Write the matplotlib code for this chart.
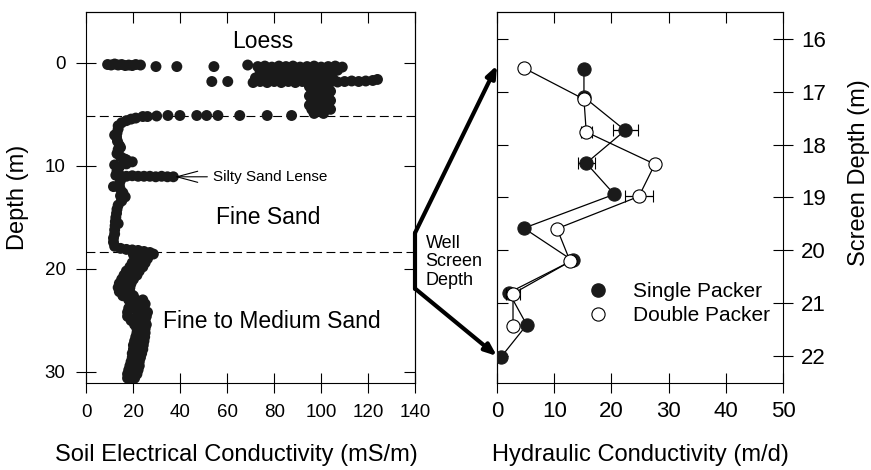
import numpy as np
import matplotlib.pyplot as plt
from matplotlib.patches import ConnectionPatch
from matplotlib.lines import Line2D

plt.rcParams['font.family'] = ['Liberation Sans', 'DejaVu Sans']

# ---- soil EC log (mS/m) vs depth (m) ----
ec_loess_top = [9, 10.5, 12, 13.5, 15, 16.5, 18, 19.5, 21, 23, 29.6, 38.5, 54.3, 68.7]
depth_loess_top = [0.15, 0.2, 0.1, 0.2, 0.15, 0.25, 0.2, 0.25, 0.15, 0.2, 0.35, 0.35, 0.35, 0.2]

ec_loess_a = [73, 76, 79, 82, 85, 88, 91, 94, 97, 100, 103, 106, 109,
              74, 77, 80, 83, 86, 89, 92, 95, 98, 101, 104, 107, 96, 100]
depth_loess_a = [0.35, 0.3, 0.4, 0.3, 0.35, 0.3, 0.4, 0.35, 0.3, 0.4, 0.35, 0.3, 0.4,
                 0.8, 0.75, 0.85, 0.7, 0.8, 0.75, 0.85, 0.8, 0.7, 0.8, 0.75, 0.7, 1.2, 1.15]

ec_loess_b = [53.4, 60.2, 71, 74, 77, 80, 83, 86, 89, 92, 95, 98, 101, 104, 107, 110, 113, 116, 119, 122, 124,
              72, 75, 78, 81, 84, 87, 90, 93, 96, 99, 102, 105]
depth_loess_b = [1.8, 1.8, 1.9, 1.8, 1.9, 1.8, 1.9, 1.8, 1.9, 1.8, 1.9, 1.8, 1.9, 1.8, 1.85, 1.8, 1.75, 1.8, 1.75, 1.7, 1.6,
                 1.45, 1.5, 1.4, 1.5, 1.45, 1.5, 1.4, 1.5, 1.45, 1.5, 1.4, 1.5]

ec_loess_c = [95, 99, 103, 96, 100, 104, 95, 99, 103, 96, 100, 104, 95, 99, 103, 96, 100, 104, 97, 101]
depth_loess_c = [2.3, 2.3, 2.3, 2.75, 2.75, 2.75, 3.2, 3.2, 3.2, 3.65, 3.65, 3.65, 4.1, 4.1, 4.1,
                 4.5, 4.5, 4.5, 4.9, 4.9]

ec_contact = [87.4, 77, 65.3, 56, 51.2, 47, 39.8, 34.7, 29.9, 26, 24, 21, 19, 17, 15, 13.5]
depth_contact = [5.1, 5.1, 5.1, 5.1, 5.1, 5.1, 5.1, 5.1, 5.15, 5.2, 5.2, 5.35, 5.45, 5.6, 5.8, 6.1]

ec_fine_sand = [13.5, 13, 12.8, 13.2, 14, 13.5, 13, 14.5, 17, 19.5, 17, 14, 13, 12.5,
                14.5, 17, 19.5, 22, 24.5, 27, 29.5, 32, 34.5, 37,
                14.5, 14, 14.3, 15.5, 16.5, 15, 13.5, 13, 12.8, 12.5, 12.3, 12.2, 12, 12, 11.5, 11.5,
                12, 14.5, 17, 19.5, 22, 24.5, 27, 28.5,
                12, 14.5, 16, 12, 11.5, 14.5, 13.5, 15]
depth_fine_sand = [6.4, 6.8, 7.2, 7.6, 8.0, 8.4, 8.8, 9.1, 9.4, 9.6, 9.8, 10.1, 10.5, 10.9,
                   10.95, 11.0, 10.95, 11.0, 11.0, 11.0, 11.05, 11.0, 11.05, 11.05,
                   11.4, 11.8, 12.2, 12.6, 13.0, 13.4, 13.8, 14.2, 14.6, 15.0, 15.4, 15.8, 16.2, 16.6, 17.0, 17.4,
                   17.8, 18.0, 18.1, 18.15, 18.2, 18.3, 18.4, 18.55,
                   7.0, 8.2, 9.3, 9.9, 12.0, 12.9, 15.6, 13.2]

depth_medium = [18.6, 19.0, 19.4, 19.8, 20.2, 20.6, 21.0, 21.4, 21.8, 22.2, 22.6, 23.0, 23.4, 23.8, 24.2, 24.6,
                25.0, 25.4, 25.8, 26.2, 26.6, 27.0, 27.4, 27.8, 28.2, 28.6, 29.0, 29.4, 29.8, 30.2, 30.6]
ec_medium_left = [20, 21, 19.5, 18.5, 17, 16, 15, 14, 13.5, 14, 15.5, 18, 19.5, 18, 17.5, 17.5,
                  19, 20.5, 21.5, 21.5, 21, 20.5, 20, 20, 19.5, 19.5, 19, 18.5, 18, 17.5, 17.5]
ec_medium_mid = [23.5, 23.5, 22, 21, 20, 19, 17.5, 16.5, 16, 16, 17.5, 21, 22, 21, 22, 21.5,
                 22, 23, 23, 23, 23, 22.5, 22, 22, 21.5, 21.5, 21, 20.5, 20, 19.5, 19]
ec_medium_right = [27, 26, 25, 24, 22.5, 21.5, 20, 19, 18.5, 18.5, 20, 24, 25, 24.5, 26, 25.5,
                   25, 25.5, 25, 25, 24.8, 24.5, 24.2, 24, 23.5, 23, 22.5, 22.5, 22, 21.5, 20.5]

layer_bounds = [5.15, 18.4]

# ---- hydraulic conductivity (m/d) vs screen depth (m) ----
depth_single = [16.57, 17.10, 17.73, 18.35, 18.94, 19.58, 20.19, 20.80, 21.41, 22.02]
k_single = [15.2, 15.2, 22.4, 15.6, 20.5, 4.7, 13.2, 2.1, 5.2, 0.7]
k_single_err = [0, 0, 2.2, 1.5, 0, 0, 0, 0, 0, 0]

depth_double = [16.55, 17.14, 17.76, 18.37, 18.98, 19.59, 20.21, 20.82, 21.43]
k_double = [4.7, 15.2, 15.6, 27.6, 24.8, 10.5, 12.8, 2.8, 2.8]
k_double_err = [0, 0, 1.0, 0, 2.4, 0, 0, 1.2, 0]

screen_top, screen_bottom = 16.5, 22.0

fig = plt.figure(figsize=(8.71, 4.70), dpi=100)
ax1 = fig.add_axes([0.0993, 0.1851, 0.3772, 0.7894])
ax2 = fig.add_axes([0.5706, 0.1851, 0.3284, 0.7894])

# left panel: soil EC
ec_all = (ec_loess_top + ec_loess_a + ec_loess_b + ec_loess_c + ec_contact + ec_fine_sand
          + ec_medium_left + ec_medium_mid + ec_medium_right)
depth_all = (depth_loess_top + depth_loess_a + depth_loess_b + depth_loess_c + depth_contact
             + depth_fine_sand + depth_medium * 3)
ax1.scatter(ec_all, depth_all, s=62, color='#1a1a1a', edgecolors='none', zorder=3)
for d in layer_bounds:
    ax1.axhline(d, color='k', lw=0.8, ls=(0, (8, 4)), zorder=2)

ax1.set_xlim(0, 140)
ax1.set_ylim(31.07, -4.95)
ax1.set_xticks(np.arange(0, 141, 20))
ax1.set_yticks([0, 10, 20, 30])
ax1.tick_params(direction='inout', length=14, width=0.8, labelsize=13.5, pad=8,
                top=False, right=False)
top1 = ax1.secondary_xaxis('top')
top1.set_xticks(np.arange(0, 141, 20))
top1.tick_params(direction='in', length=8, width=0.8, labeltop=False)
right1 = ax1.secondary_yaxis('right')
right1.set_yticks([0, 10, 20, 30])
right1.tick_params(direction='in', length=8, width=0.8, labelright=False)
ax1.set_xlabel('Soil Electrical Conductivity (mS/m)', fontsize=17, labelpad=17)
ax1.xaxis.label.set_x(0.455)
ax1.set_ylabel('Depth (m)', fontsize=17, labelpad=11)

ax1.text(75, -2.1, 'Loess', fontsize=16.5, ha='center', va='center')
ax1.text(77.5, 15.0, 'Fine Sand', fontsize=16.5, ha='center', va='center')
ax1.text(79, 25.1, 'Fine to Medium Sand', fontsize=16.5, ha='center', va='center')
ax1.text(53.8, 11.1, 'Silty Sand Lense', fontsize=11, ha='left', va='center')
ax1.annotate('', xy=(37.6, 11.05), xytext=(51.5, 11.05),
             arrowprops=dict(arrowstyle='->,head_length=1.5,head_width=0.4',
                             lw=0.8, color='k', shrinkA=0, shrinkB=0))

# right panel: hydraulic conductivity
ax2.errorbar(k_single, depth_single, xerr=k_single_err, fmt='-o', color='k', lw=0.9,
             ms=9.5, mfc='#1a1a1a', mec='#1a1a1a', mew=0.8, ecolor='k', elinewidth=0.9,
             capsize=4, zorder=3)
ax2.errorbar(k_double, depth_double, xerr=k_double_err, fmt='-o', color='k', lw=0.9,
             ms=9.5, mfc='white', mec='k', mew=0.8, ecolor='k', elinewidth=0.9,
             capsize=4, zorder=4)

ax2.set_xlim(0, 50)
ax2.set_ylim(22.51, 15.49)
ax2.set_xticks(np.arange(0, 51, 10))
ax2.set_yticks(np.arange(16, 23, 1))
ax2.yaxis.tick_right()
ax2.yaxis.set_label_position('right')
ax2.tick_params(direction='inout', length=14, width=0.8, labelsize=16, pad=6,
                top=False, left=False)
top2 = ax2.secondary_xaxis('top')
top2.set_xticks(np.arange(0, 51, 10))
top2.tick_params(direction='in', length=8, width=0.8, labeltop=False)
left2 = ax2.secondary_yaxis('left')
left2.set_yticks(np.arange(16, 23, 1))
left2.tick_params(direction='in', length=8, width=0.8, labelleft=False)
ax2.set_xlabel('Hydraulic Conductivity (m/d)', fontsize=17, labelpad=16)
ax2.set_ylabel('Screen Depth (m)', fontsize=17, labelpad=16)
ax2.yaxis.label.set_y(0.566)

handles = [Line2D([], [], ls='none', marker='o', ms=9.5, mfc='#1a1a1a', mec='#1a1a1a'),
           Line2D([], [], ls='none', marker='o', ms=9.5, mfc='white', mec='k', mew=0.8)]
ax2.legend(handles, ['Single Packer', 'Double Packer'], loc='center left',
           bbox_to_anchor=(0.322, 0.214), frameon=False, fontsize=15,
           handlelength=0.9, handletextpad=1.2, labelspacing=0.25, borderpad=0,
           borderaxespad=0)

for ax in (ax1, ax2):
    for sp in ax.spines.values():
        sp.set_linewidth(0.8)
for sec in (top1, right1, top2, left2):
    for sp in sec.spines.values():
        sp.set_linewidth(0.8)

# well screen bracket linking the two panels
ax1.plot([140, 140], [screen_top, 21.9], color='k', lw=3, clip_on=False,
         solid_capstyle='round', zorder=5)
for d_left, d_right in [(screen_top, screen_top), (21.9, screen_bottom)]:
    con = ConnectionPatch(xyA=(140, d_left), coordsA=ax1.transData,
                          xyB=(0, d_right), coordsB=ax2.transData,
                          arrowstyle='-|>,head_length=0.5,head_width=0.2', mutation_scale=14,
                          lw=3, color='k', shrinkA=0, shrinkB=0, zorder=5)
    fig.add_artist(con)
ax1.text(144.5, 19.3, 'Well\nScreen\nDepth', fontsize=13, ha='left', va='center',
         linespacing=1.1, clip_on=False)

fig.savefig('out.png', dpi=100)
